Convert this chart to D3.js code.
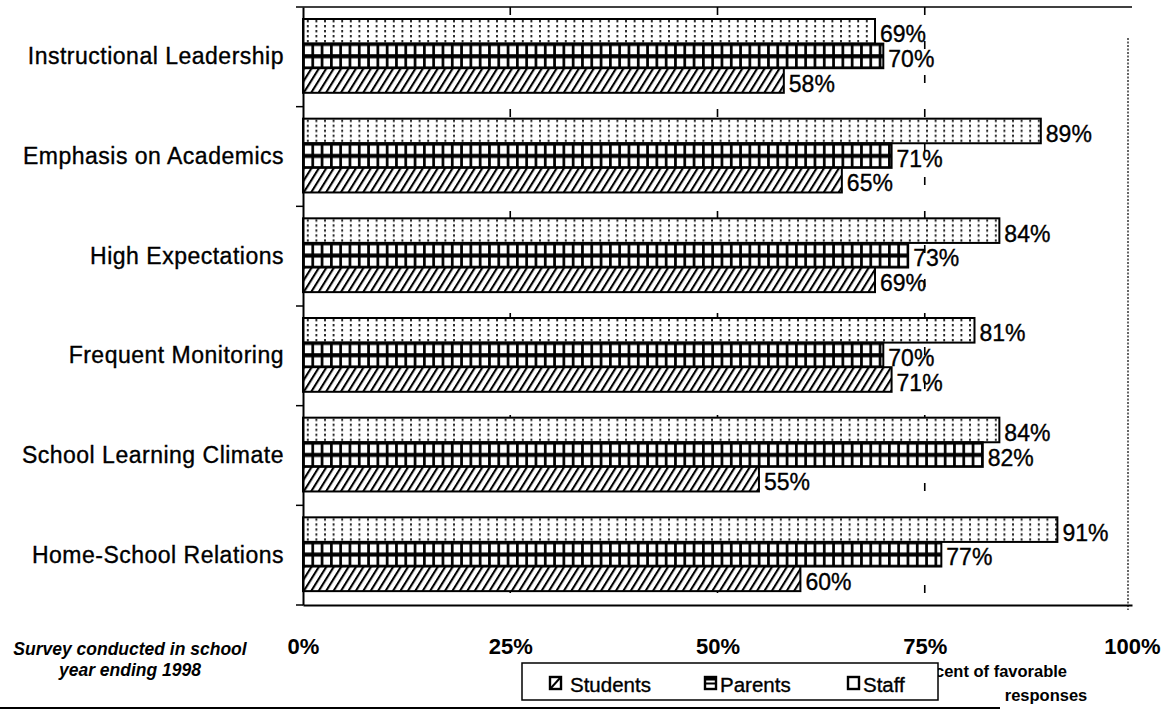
<!DOCTYPE html>
<html>
<head>
<meta charset="utf-8">
<script src="https://cdn.jsdelivr.net/npm/d3@7"></script>
<style>
  body { margin: 0; background: #fff; }
  svg text { font-family: "Liberation Sans", Arial, sans-serif; fill: #000; }
  .heavy { stroke: #000; stroke-width: 0.35px; }
</style>
</head>
<body>
<svg id="chart" width="1163" height="715"></svg>
<script>
// data
var categories = ["Instructional Leadership", "Emphasis on Academics", "High Expectations",
                  "Frequent Monitoring", "School Learning Climate", "Home-School Relations"];
var series = ["Staff", "Parents", "Students"];
var staff    = [69, 89, 84, 81, 84, 91];
var parents  = [70, 71, 73, 70, 82, 77];
var students = [58, 65, 69, 71, 55, 60];
var xTicks = [0, 25, 50, 75, 100];
var legendOrder = ["Students", "Parents", "Staff"];

var values = { Staff: staff, Parents: parents, Students: students };

var svg = d3.select("#chart");

// %%%%%%%%%%%%%%%%%%%%
// % patterns         %
// %%%%%%%%%%%%%%%%%%%%
var defs = svg.append("defs");

// staff: dotted vertical lines
var pStaff = defs.append("pattern").attr("id", "pat-Staff")
    .attr("patternUnits", "userSpaceOnUse").attr("width", 8.6).attr("height", 5);
pStaff.append("rect").attr("width", 8.6).attr("height", 5).attr("fill", "#fff");
pStaff.append("rect").attr("x", 4).attr("y", 1).attr("width", 1.6).attr("height", 2.4).attr("fill", "#000");

// parents: black grid with white squares
var pPar = defs.append("pattern").attr("id", "pat-Parents")
    .attr("patternUnits", "userSpaceOnUse").attr("width", 9.3).attr("height", 12.3);
pPar.append("rect").attr("width", 9.3).attr("height", 12.3).attr("fill", "#000");
pPar.append("rect").attr("x", 1.8).attr("y", 2.4).attr("width", 6.6).attr("height", 8.2).attr("fill", "#fff");

// students: diagonal hatch
var pStu = defs.append("pattern").attr("id", "pat-Students")
    .attr("patternUnits", "userSpaceOnUse").attr("width", 6.3).attr("height", 10)
    .attr("patternTransform", "rotate(32)");
pStu.append("rect").attr("width", 6.3).attr("height", 10).attr("fill", "#fff");
pStu.append("rect").attr("x", 0).attr("width", 2.1).attr("height", 10).attr("fill", "#000");

// %%%%%%%%%%%%%%%%%%%%
// % scales           %
// %%%%%%%%%%%%%%%%%%%%
var x = d3.scaleLinear().domain([0, 100]).range([303, 1132]);
var y = d3.scaleBand().domain(categories).range([7, 605]);
var y1 = d3.scaleBand().domain(series).range([12, 12 + 3 * 24.6]);

// dashed gridlines
svg.append("g").selectAll("line")
    .data([25, 50, 75]).enter().append("line")
    .attr("x1", d => x(d)).attr("x2", d => x(d))
    .attr("y1", 7).attr("y2", 605)
    .attr("stroke", "#000").attr("stroke-width", 1.6)
    .attr("stroke-dasharray", "8,26");

// frame: top solid, right dotted
svg.append("line").attr("x1", x(0)).attr("x2", x(100)).attr("y1", 7).attr("y2", 7)
    .attr("stroke", "#000").attr("stroke-width", 1.5);
svg.append("line").attr("x1", x(100) - 4).attr("x2", x(100) - 4).attr("y1", 38).attr("y2", 610)
    .attr("stroke", "#000").attr("stroke-width", 1.2).attr("stroke-dasharray", "2,1.5");

// %%%%%%%%%%%%%%%%%%%%
// % bars             %
// %%%%%%%%%%%%%%%%%%%%
var groups = svg.append("g").selectAll("g")
    .data(categories).enter().append("g")
    .attr("transform", d => "translate(0," + y(d) + ")");

groups.each(function (cat, i) {
    var g = d3.select(this);
    series.forEach(function (s) {
        var v = values[s][i];
        var bar = g.append("g").attr("transform", "translate(" + x(0) + "," + y1(s) + ")");
        bar.append("rect")
            .attr("width", x(v) - x(0))
            .attr("height", y1.bandwidth())
            .attr("fill", "url(#pat-" + s + ")")
            .attr("stroke", "#000").attr("stroke-width", 2);
        g.append("text")
            .attr("class", "heavy")
            .attr("x", x(v) + 5)
            .attr("y", y1(s) + y1.bandwidth() / 2 + 3)
            .attr("dy", "0.35em")
            .attr("font-size", "23px")
            .text(v + "%");
    });
});

// %%%%%%%%%%%%%%%%%%%%
// % axes             %
// %%%%%%%%%%%%%%%%%%%%
var yAxis = svg.append("g").attr("transform", "translate(" + x(0) + ",0)")
    .call(d3.axisLeft(y).tickSize(0).tickPadding(19));
yAxis.select(".domain").attr("stroke-width", 2);
yAxis.selectAll("text")
    .attr("class", "heavy")
    .attr("font-size", "23px").attr("letter-spacing", "0.5px")
    .style("font-family", "Liberation Sans, Arial, sans-serif");

// ticks at band boundaries
svg.append("g").selectAll("line")
    .data(categories.concat(["end"])).enter().append("line")
    .attr("x1", x(0) - 7).attr("x2", x(0))
    .attr("y1", (d, i) => 7 + i * y.step()).attr("y2", (d, i) => 7 + i * y.step())
    .attr("stroke", "#000").attr("stroke-width", 1.5);

var xAxis = svg.append("g").attr("transform", "translate(0,605)")
    .call(d3.axisBottom(x).tickValues(xTicks).tickSize(0).tickPadding(33)
        .tickFormat(d => d + "%"));
xAxis.select(".domain").attr("stroke-width", 2);
xAxis.selectAll("text")
    .attr("font-size", "22px").attr("font-weight", "bold")
    .style("font-family", "Liberation Sans, Arial, sans-serif");

// %%%%%%%%%%%%%%%%%%%%
// % notes & legend   %
// %%%%%%%%%%%%%%%%%%%%
var note = svg.append("text").attr("font-size", "17.5px").attr("font-weight", "bold")
    .attr("font-style", "italic").attr("text-anchor", "middle");
note.append("tspan").attr("x", 130).attr("y", 655).text("Survey conducted in school");
note.append("tspan").attr("x", 130).attr("y", 676).text("year ending 1998");

var axTitle = svg.append("text").attr("font-size", "16.5px").attr("font-weight", "bold");
axTitle.append("tspan").attr("x", 1067).attr("y", 677).attr("text-anchor", "end").text("Percent of favorable");
axTitle.append("tspan").attr("x", 1046).attr("y", 701).attr("text-anchor", "middle").text("responses");

svg.append("line").attr("x1", 0).attr("x2", 1000).attr("y1", 708).attr("y2", 708)
    .attr("stroke", "#000").attr("stroke-width", 2);

var legend = svg.append("g").attr("transform", "translate(522,663)");
legend.append("rect").attr("width", 416).attr("height", 37)
    .attr("fill", "#fff").attr("stroke", "#000").attr("stroke-width", 1.5);

var legSwatch = [28, 183, 326];
var legText = [48, 198, 341];
legendOrder.forEach(function (s, i) {
    var item = legend.append("g").attr("transform", "translate(" + legSwatch[i] + ",0)");
    item.append("rect").attr("x", 0).attr("y", 14).attr("width", 11).attr("height", 12)
        .attr("fill", "#fff").attr("stroke", "#000").attr("stroke-width", 2.4);
    if (s === "Students") {
        item.append("line").attr("x1", 1).attr("y1", 25).attr("x2", 10).attr("y2", 15)
            .attr("stroke", "#000").attr("stroke-width", 2);
    }
    if (s === "Parents") {
        item.append("rect").attr("x", 0).attr("y", 14).attr("width", 11).attr("height", 3.5).attr("fill", "#000");
        item.append("line").attr("x1", 0).attr("x2", 11).attr("y1", 20.5).attr("y2", 20.5)
            .attr("stroke", "#000").attr("stroke-width", 2);
    }
    legend.append("text").attr("class", "heavy")
        .attr("x", legText[i]).attr("y", 29).attr("font-size", "20.5px").text(s);
});
</script>
</body>
</html>
